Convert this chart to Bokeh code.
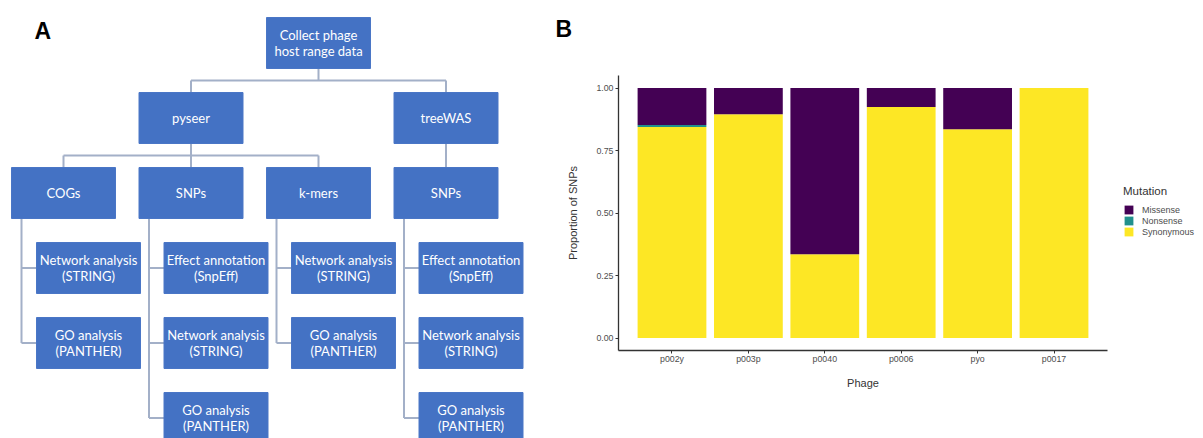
from bokeh.plotting import figure
from bokeh.layouts import row
from bokeh.models import (Range1d, FactorRange, ColumnDataSource, Legend, LegendItem,
                          LabelSet, Title, FixedTicker, NumeralTickFormatter)
from bokeh.core.properties import value
from bokeh.embed import file_html
from bokeh.resources import INLINE

# ---------------- Panel A: workflow (diagram content) ----------------
root_label = "Collect phage\nhost range data"
tool_labels = ["pyseer", "treeWAS"]
tool_cols = [1, 3]
input_labels = ["COGs", "SNPs", "k-mers", "SNPs"]
input_tool = [0, 0, 0, 1]
analysis_labels = [
    ["Network analysis\n(STRING)", "GO analysis\n(PANTHER)"],
    ["Effect annotation\n(SnpEff)", "Network analysis\n(STRING)", "GO analysis\n(PANTHER)"],
    ["Network analysis\n(STRING)", "GO analysis\n(PANTHER)"],
    ["Effect annotation\n(SnpEff)", "Network analysis\n(STRING)", "GO analysis\n(PANTHER)"],
]

# ---------------- Panel B: data ----------------
phages = ["p002y", "p003p", "p0040", "p0006", "pyo", "p0017"]
synonymous = [0.844, 0.895, 0.335, 0.924, 0.835, 1.000]
nonsense = [0.008, 0.000, 0.000, 0.000, 0.000, 0.000]
missense = [0.148, 0.105, 0.665, 0.076, 0.165, 0.000]
phage_label_colors = ["#e0505e", "#e0505e", "#e0505e", "#4848c8", "#4848c8", "#8a5c96"]
mutation_types = ["Missense", "Nonsense", "Synonymous"]
mutation_colors = {"Missense": "#440154", "Nonsense": "#21908C", "Synonymous": "#FDE725"}
y_ticks = [0.0, 0.25, 0.5, 0.75, 1.0]

H = 438
# ---------------- Panel A figure ----------------
W_A = 545
pA = figure(width=W_A, height=H, x_range=Range1d(0, W_A), y_range=Range1d(H, 0),
            x_axis_location=None, y_axis_location=None, toolbar_location=None,
            output_backend="svg", min_border=0)
pA.frame_align = False
pA.grid.visible = False
pA.outline_line_color = None
pA.background_fill_color = "white"
pA.border_fill_color = "white"

COL_X0, COL_DX = 11.0, 127.5
ROW_Y0, ROW_DY = 17.0, 75.0
BOX_W, BOX_H = 104.0, 51.0
INDENT, SPINE, BUS_GAP = 25.0, 10.0, 12.0


def box(col, r, indent=0.0):
    l = COL_X0 + col * COL_DX + indent
    t = ROW_Y0 + r * ROW_DY
    return l, l + BOX_W, t, t + BOX_H


bl, br, bt, bb, bt_lab = [], [], [], [], []
sx0, sy0, sx1, sy1 = [], [], [], []


def add_box(b, lab):
    bl.append(b[0]); br.append(b[1]); bt.append(b[2]); bb.append(b[3]); bt_lab.append(lab)


def seg(x0, y0, x1, y1):
    sx0.append(x0); sy0.append(y0); sx1.append(x1); sy1.append(y1)


root = box(2, 0)
add_box(root, root_label)
root_cx = (root[0] + root[1]) / 2
bus1 = root[3] + BUS_GAP
tool_boxes = []
for lab, c in zip(tool_labels, tool_cols):
    b = box(c, 1)
    add_box(b, lab)
    tool_boxes.append(b)
tcx = [(b[0] + b[1]) / 2 for b in tool_boxes]
seg(root_cx, root[3], root_cx, bus1)
seg(min(tcx), bus1, max(tcx), bus1)
for b, cx in zip(tool_boxes, tcx):
    seg(cx, bus1, cx, b[2])

input_boxes = []
for i, lab in enumerate(input_labels):
    b = box(i, 2)
    add_box(b, lab)
    input_boxes.append(b)
for ti, tb in enumerate(tool_boxes):
    kids = [input_boxes[i] for i in range(len(input_labels)) if input_tool[i] == ti]
    kcx = [(k[0] + k[1]) / 2 for k in kids]
    tcx_i = (tb[0] + tb[1]) / 2
    bus2 = tb[3] + BUS_GAP
    if len(kids) > 1:
        seg(tcx_i, tb[3], tcx_i, bus2)
        seg(min(kcx), bus2, max(kcx), bus2)
        for k, cx in zip(kids, kcx):
            seg(cx, bus2, cx, k[2])
    else:
        seg(kcx[0], tb[3], kcx[0], kids[0][2])

for i, labs in enumerate(analysis_labels):
    ib = input_boxes[i]
    spine_x = ib[0] + SPINE
    last_cy = ib[3]
    for j, lab in enumerate(labs):
        b = box(i, 3 + j, INDENT)
        add_box(b, lab)
        cy = (b[2] + b[3]) / 2
        seg(spine_x, cy, b[0], cy)
        last_cy = cy
    seg(spine_x, ib[3], spine_x, last_cy)

pA.segment(x0=sx0, y0=sy0, x1=sx1, y1=sy1, line_color="#a3b0c8", line_width=2)
box_src = ColumnDataSource(dict(left=bl, right=br, top=bt, bottom=bb,
                                cx=[(a + b) / 2 for a, b in zip(bl, br)],
                                cy=[(a + b) / 2 for a, b in zip(bt, bb)], text=bt_lab))
pA.quad(left="left", right="right", top="top", bottom="bottom", source=box_src,
        fill_color="#4472C4", line_color="#4a76c6", line_width=1)
pA.text(x="cx", y="cy", text="text", source=box_src, text_align="center",
        text_baseline="middle", text_color="white", text_font=value("Lato"),
        text_font_size="13px", text_line_height=1.0)
pA.text(x=[34], y=[30], text=["A"], text_font=value("Liberation Sans"),
        text_font_style="bold", text_font_size="23px", text_color="black",
        text_baseline="alphabetic", text_align="left")

# ---------------- Panel B figure ----------------
FRAME_W, FRAME_H = 489, 275
ML, MR, MT, MB = 73, 96, 75, 88
Y0, Y1 = -0.05, 1.05
PAD = 0.1
pB = figure(frame_width=FRAME_W, frame_height=FRAME_H,
            x_range=FactorRange(*phages, range_padding=2 * PAD, range_padding_units="absolute"),
            y_range=Range1d(Y0, Y1), toolbar_location=None, output_backend="svg",
            min_border_left=ML, min_border_right=MR, min_border_top=MT, min_border_bottom=MB)
pB.frame_align = False
pB.grid.visible = False
pB.outline_line_color = None
pB.background_fill_color = "white"
pB.border_fill_color = "white"

src = ColumnDataSource(dict(phage=phages, Synonymous=synonymous, Nonsense=nonsense,
                            Missense=missense))
stack_order = ["Synonymous", "Nonsense", "Missense"]
rs = pB.vbar_stack(stack_order, x="phage", width=0.9, source=src,
                   fill_color=[mutation_colors[k] for k in stack_order], line_color=None)
rmap = dict(zip(stack_order, rs))

# axes styling
for ax in (pB.xaxis[0], pB.yaxis[0]):
    ax.axis_line_color = "#333333"
    ax.axis_line_width = 1.3
    ax.major_tick_line_color = "#333333"
    ax.major_tick_out = 3
    ax.major_tick_in = 0
    ax.minor_tick_line_color = None
    ax.axis_label_text_font = "Liberation Sans"
    ax.axis_label_text_font_style = "normal"
    ax.axis_label_text_font_size = "11px"
    ax.axis_label_text_color = "#333333"
    ax.major_label_text_font = "Liberation Sans"
    ax.major_label_text_font_size = "8.8px"
    ax.major_label_text_color = "#4d4d4d"

pB.yaxis.ticker = FixedTicker(ticks=y_ticks)
pB.yaxis.formatter = NumeralTickFormatter(format="0.00")
pB.yaxis.axis_label = "Proportion of SNPs"
pB.yaxis.major_label_standoff = 2
pB.yaxis.axis_label_standoff = 14

pB.xaxis.axis_label = "Phage"
pB.xaxis.major_label_overrides = {f: "" for f in phages}
pB.xaxis.major_label_standoff = 0
pB.xaxis.axis_label_standoff = 10

# colored category labels
px_per_y = (Y1 - Y0) / FRAME_H
lab_src = ColumnDataSource(dict(x=phages, y=[Y0 - 8 * px_per_y] * len(phages),
                                text=phages, color=phage_label_colors))
pB.add_layout(LabelSet(x="x", y="y", text="text", source=lab_src, text_color="color",
                       text_align="center", text_baseline="middle",
                       text_font=value("Liberation Sans"), text_font_size="8.8px"))

# legend (right side panel)
legend = Legend(items=[LegendItem(label=m, renderers=[rmap[m]]) for m in mutation_types],
                location=(16, 113), title="Mutation",
                title_text_font="Liberation Sans", title_text_font_size="11.5px",
                title_text_font_style="normal", title_text_color="#333333", title_standoff=7,
                label_text_font="Liberation Sans", label_text_font_size="9px",
                label_text_color="#4d4d4d", label_standoff=8, label_height=11,
                label_width=61, glyph_height=11, glyph_width=11, spacing=0, padding=0,
                margin=0, border_line_color=None, background_fill_alpha=0)
pB.add_layout(legend, "right")

# panel letter B (a thin spacer panel sits between it and the frame)
pB.add_layout(Title(text=" ", text_font_size="1px", standoff=31), "above")
pB.add_layout(Title(text="B", align="left", offset=-63, standoff=0,
                    text_font="Liberation Sans", text_font_style="bold",
                    text_font_size="23px", text_color="black"), "above")

layout = row(pA, pB)
open("out.html", "w").write(file_html(layout, INLINE))
